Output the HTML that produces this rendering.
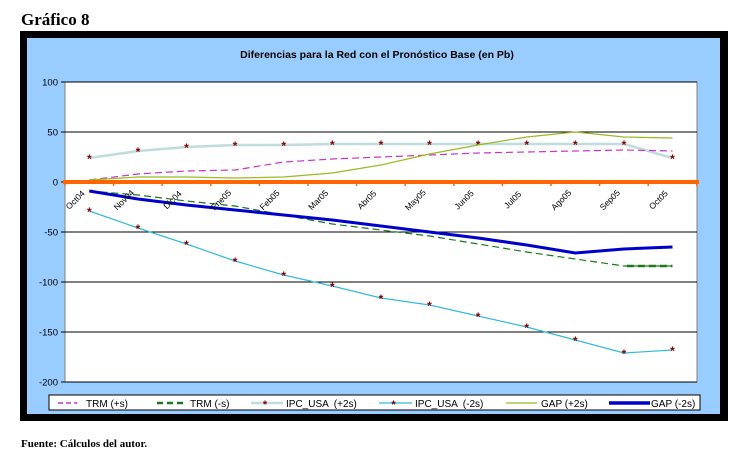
<!DOCTYPE html>
<html><head><meta charset="utf-8"><style>
body{margin:0;background:#fff;width:754px;height:474px;overflow:hidden;font-family:"Liberation Sans",sans-serif}
</style></head><body>
<svg id="s" width="754" height="474" xmlns="http://www.w3.org/2000/svg" style="position:absolute;left:0;top:0">
<text x="21" y="25" font-family="Liberation Serif" font-weight="bold" font-size="17">Gráfico 8</text>
<rect x="20" y="31" width="708" height="390" fill="#000"/>
<rect x="27" y="38" width="693" height="376" fill="#99ccff"/>
<text x="377" y="58" text-anchor="middle" font-weight="bold" font-size="10.5">Diferencias para la Red con el Pronóstico Base (en Pb)</text>
<rect x="65" y="82" width="632" height="300" fill="#fff" stroke="#808080" stroke-width="1"/>
<rect x="49" y="395" width="651" height="15" fill="#fff" stroke="#000" stroke-width="1"/>
<g id="g"></g>
</svg>
<script>
const g=document.getElementById('g');let h='';
const Y=v=>182-v, X=i=>89.3+i*48.6;
[100,50,-50,-100,-150,-200].forEach(v=>{h+=`<line x1="65" x2="697" y1="${Y(v)}" y2="${Y(v)}" stroke="#000" stroke-width="1"/>`;});
[100,50,0,-50,-100,-150,-200].forEach(v=>{h+=`<line x1="61" x2="65" y1="${Y(v)}" y2="${Y(v)}" stroke="#000"/><text x="58" y="${Y(v)+3.5}" text-anchor="end" font-size="9.5">${v}</text>`;});
const line=(d,st)=>{h+=`<polyline fill="none" points="${d.map((v,i)=>X(i)+','+Y(v)).join(' ')}" ${st}/>`;};
const star=(d)=>d.forEach((v,i)=>{h+=`<text x="${X(i)}" y="${Y(v)+5}" text-anchor="middle" font-size="12" font-weight="bold" fill="#800000">*</text>`;});
const ipcP=[24,31,35,37,37,38,38,38,38,38,38,38,24];
const trmP=[2,8,11,12,20,23,25,27,29,30,31,32,31];
const gapP=[2,5,5,4,5,9,17,28,37,45,50,45,44];
const gapM=[-9,-17,-23,-28,-33,-38,-44,-50,-56,-63,-71,-67,-65];
const trmM=[-9,-13,-19,-24,-33,-42,-48,-54,-62,-70,-77,-84,-84];
const ipcM=[-29,-46,-62,-79,-93,-104,-116,-123,-134,-145,-158,-171,-168];
line(ipcP,'stroke="#c0dcdc" stroke-width="2.5"');star(ipcP);
line(trmP,'stroke="#cc33cc" stroke-width="1.2" stroke-dasharray="7,4"');
line(gapP,'stroke="#99bb22" stroke-width="1.2"');
line(trmM,'stroke="#1a7a1a" stroke-width="1.2" stroke-dasharray="7,4"');
h+=`<line x1="${X(11)+3}" x2="${X(12)}" y1="${Y(-84)}" y2="${Y(-84)}" stroke="#1a7a1a" stroke-width="2.5" stroke-dasharray="7,4"/>`;
line(gapM,'stroke="#0000cc" stroke-width="3"');
line(ipcM,'stroke="#33bbdd" stroke-width="1.2"');star(ipcM);
h+=`<line x1="63" x2="699" y1="182" y2="182" stroke="#ff6600" stroke-width="4"/>`;
const lab=['Oct04','Nov04','Dic04','Ene05','Feb05','Mar05','Abr05','May05','Jun05','Jul05','Ago05','Sep05','Oct05'];
for(let i=0;i<=13;i++){h+=`<line x1="${65+i*48.6}" x2="${65+i*48.6}" y1="182" y2="186" stroke="#ff6600" stroke-width="1.5"/>`;}
lab.forEach((t,i)=>{const x=X(i)-12,y=202;h+=`<text transform="translate(${x},${y}) rotate(-45)" text-anchor="middle" font-size="8.5">${t}</text>`;});
const L=[[58,77,86,'#cc33cc','5,3',1.5,'TRM (+s)',false],[157,185,190,'#1a7a1a','6,4',2.5,'TRM (-s)',false],[251,283,286,'#c0dcdc','',2.5,'IPC_USA  (+2s)',true],[379,412,415,'#33bbdd','',1.2,'IPC_USA  (-2s)',true],[506,537,541,'#99bb22','',1.2,'GAP (+2s)',false],[609,650,651,'#0000cc','',3.5,'GAP (-2s)',false]];
L.forEach(([x0,x1,tx,c,da,w,t,s])=>{h+=`<line x1="${x0}" x2="${x1}" y1="403" y2="403" stroke="${c}" stroke-width="${w}" ${da?`stroke-dasharray="${da}"`:''}/>`;
if(s)h+=`<text x="${(x0+x1)/2-2}" y="408" text-anchor="middle" font-size="11" font-weight="bold" fill="#800000">*</text>`;
h+=`<text x="${tx}" y="407" font-size="10" xml:space="preserve">${t}</text>`;});
g.innerHTML=h;
</script>
<div style="position:absolute;left:21px;top:438px;font-family:'Liberation Serif',serif;font-weight:bold;font-size:11px">Fuente: Cálculos del autor.</div>
</body></html>
